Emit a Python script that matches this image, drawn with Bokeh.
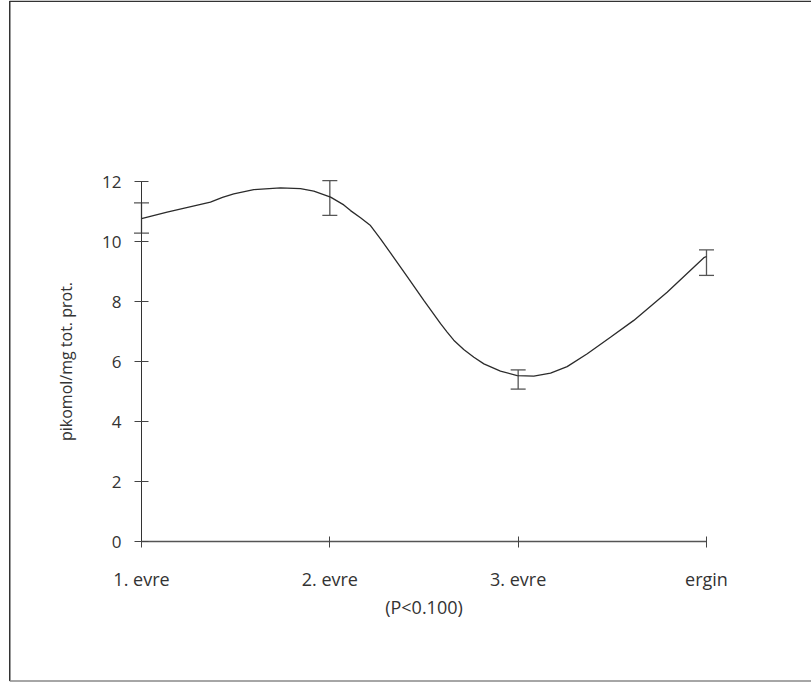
from bokeh.plotting import figure
from bokeh.models import (Range1d, LinearAxis, FixedTicker, Whisker, TeeHead,
                          ColumnDataSource)
from bokeh.embed import file_html
from bokeh.resources import INLINE

# ---- data ----
categories = ["1. evre", "2. evre", "3. evre", "ergin"]
cat_pos = [0, 1, 2, 3]
err_lower = [10.28, 10.87, 5.08, 8.87]
err_upper = [11.29, 12.03, 5.72, 9.72]

# traced smooth curve (x in category units, y in pikomol/mg)
curve_x = [0.0, 0.136, 0.366, 0.430, 0.490, 0.596, 0.738, 0.844, 0.915, 1.004,
           1.074, 1.110, 1.163, 1.216, 1.269, 1.322, 1.411, 1.499, 1.588, 1.623,
           1.658, 1.711, 1.765, 1.818, 1.906, 1.995, 2.083, 2.172, 2.260, 2.367,
           2.490, 2.614, 2.791, 2.986, 3.0]
curve_y = [10.76, 10.98, 11.31, 11.47, 11.59, 11.73, 11.79, 11.76, 11.68, 11.48,
           11.22, 11.03, 10.79, 10.53, 10.09, 9.62, 8.83, 8.04, 7.26, 6.98,
           6.71, 6.40, 6.14, 5.92, 5.68, 5.53, 5.51, 5.61, 5.83, 6.26,
           6.81, 7.37, 8.31, 9.46, 9.50]
y_ticks = [0, 2, 4, 6, 8, 10, 12]

y_label = "pikomol/mg tot. prot."
x_label = "(P<0.100)"

FONT = "Open Sans"
TXT = "#333333"

W, H = 811, 684
px_per_x = 188.33
px_per_y = 30.0
frame_left = 8
axis_x_px = 141     # pixel of x = 0
axis_y_px = 541     # pixel of y = 0


def xd(px):
    return (px - axis_x_px) / px_per_x


def yd(py):
    return (axis_y_px - py) / px_per_y


p = figure(width=W, height=H, output_backend="svg", toolbar_location=None,
           x_range=Range1d(xd(frame_left), xd(W)),
           y_range=Range1d(yd(H), yd(0)),
           x_axis_location=None, y_axis_location=None,
           min_border_left=frame_left, min_border_right=0,
           min_border_top=0, min_border_bottom=0)
p.outline_line_color = None
p.grid.visible = False
p.background_fill_color = "white"
p.border_fill_color = "white"

# x axis at y = 0
xa = LinearAxis(fixed_location=0, ticker=FixedTicker(ticks=cat_pos),
                bounds=(cat_pos[0], cat_pos[-1]))
xa.major_label_overrides = {i: c for i, c in zip(cat_pos, categories)}
xa.minor_tick_line_color = None
xa.major_tick_in = 5
xa.major_tick_out = 6
xa.axis_line_color = "#555555"
xa.axis_line_width = 1.5
xa.major_tick_line_color = "#444444"
xa.major_label_text_font = FONT
xa.major_label_text_font_size = "18px"
xa.major_label_text_color = TXT
xa.major_label_standoff = 19
xa.axis_label = x_label
xa.axis_label_text_font = FONT
xa.axis_label_text_font_size = "18px"
xa.axis_label_text_font_style = "normal"
xa.axis_label_text_color = TXT
xa.axis_label_standoff = 1
p.add_layout(xa, "below")

# y axis at x = 0
ya = LinearAxis(fixed_location=0, ticker=FixedTicker(ticks=y_ticks),
                bounds=(y_ticks[0], y_ticks[-1]))
ya.minor_tick_line_color = None
ya.major_tick_in = 7
ya.major_tick_out = 7
ya.axis_line_color = "#333333"
ya.major_tick_line_color = "#444444"
ya.major_label_text_font = FONT
ya.major_label_text_font_size = "17px"
ya.major_label_text_color = TXT
ya.major_label_standoff = 13
ya.axis_label = y_label
ya.axis_label_text_font = FONT
ya.axis_label_text_font_size = "16px"
ya.axis_label_text_font_style = "normal"
ya.axis_label_text_color = TXT
ya.axis_label_standoff = 22
p.add_layout(ya, "left")

# curve
p.line(curve_x, curve_y, line_color="#2b2b2b", line_width=1.3)

# error bars
src = ColumnDataSource(dict(x=cat_pos, lower=err_lower, upper=err_upper))
wh = Whisker(base="x", lower="lower", upper="upper", source=src,
             line_color="#555555", line_width=1.3,
             upper_head=TeeHead(size=15, line_color="#555555", line_width=1.3),
             lower_head=TeeHead(size=15, line_color="#555555", line_width=1.3))
p.add_layout(wh)

# outer frame: top + left (dark), bottom (grey); right side runs off the page
p.line([xd(W + 20), xd(9.25), xd(9.25)], [yd(0.75), yd(0.75), yd(680.5)],
       line_color="#333333", line_width=1.5)
p.line([xd(9.25), xd(W + 20)], [yd(680.5), yd(680.5)],
       line_color="#888888", line_width=1.5)

open("out.html", "w").write(file_html(p, INLINE))
